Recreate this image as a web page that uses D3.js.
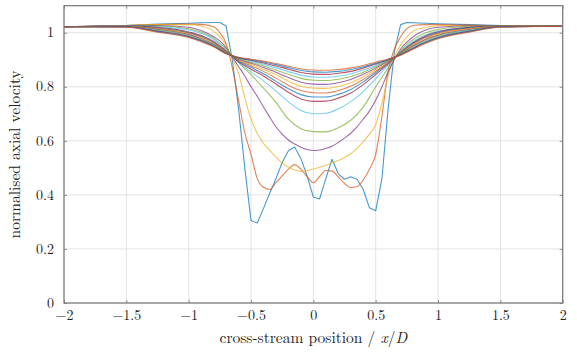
<!DOCTYPE html>
<html>
<head>
<meta charset="utf-8">
<script src="https://cdn.jsdelivr.net/npm/d3@7"></script>
<style>
html,body{margin:0;padding:0;background:#fff;}
svg{display:block;}
text{font-family:"Latin Modern Roman","Liberation Serif","DejaVu Serif",serif;fill:#222;}
</style>
</head>
<body>
<svg id="chart" width="577" height="358"></svg>
<script>
// ---- data ----
const xTicks = [-2, -1.5, -1, -0.5, 0, 0.5, 1, 1.5, 2];
const yTicks = [0, 0.2, 0.4, 0.6, 0.8, 1];
const xLabel = "cross-stream position / ";
const yLabel = "normalised axial velocity";

const xFine = [-2, -1.5, -1.25, -1, -0.9, -0.8, -0.75, -0.7, -0.65, -0.6, -0.55, -0.5, -0.45, -0.4, -0.35, -0.3, -0.25, -0.2, -0.15, -0.1, -0.05, 0, 0.05, 0.1, 0.15, 0.2, 0.25, 0.3, 0.35, 0.4, 0.45, 0.5, 0.55, 0.6, 0.65, 0.7, 0.75, 0.8, 0.9, 1, 1.25, 1.5, 2];
const xCoarse = [-2, -1.5, -1.25, -1, -0.9, -0.8, -0.7, -0.6, -0.5, -0.4, -0.3, -0.2, -0.1, 0, 0.1, 0.2, 0.3, 0.4, 0.5, 0.6, 0.7, 0.8, 0.9, 1, 1.25, 1.5, 2];

const s1 = [1.022, 1.027, 1.032, 1.035, 1.037, 1.038, 1.038, 1.025, 0.90, 0.72, 0.50, 0.305, 0.296, 0.35, 0.406, 0.46, 0.52, 0.563, 0.577, 0.535, 0.47, 0.392, 0.385, 0.46, 0.532, 0.478, 0.458, 0.467, 0.458, 0.42, 0.352, 0.341, 0.46, 0.72, 0.93, 1.03, 1.038, 1.037, 1.035, 1.033, 1.03, 1.027, 1.024];
const s2 = [1.022, 1.027, 1.03, 1.032, 1.031, 1.022, 1.0, 0.96, 0.87, 0.75, 0.63, 0.55, 0.46, 0.428, 0.42, 0.445, 0.47, 0.495, 0.512, 0.495, 0.468, 0.445, 0.468, 0.49, 0.488, 0.467, 0.442, 0.427, 0.43, 0.455, 0.495, 0.55, 0.69, 0.86, 0.94, 0.985, 1.015, 1.027, 1.03, 1.03, 1.028, 1.026, 1.024];
const s3 = [1.022, 1.027, 1.03, 1.03, 1.025, 1.005, 0.985, 0.955, 0.905, 0.85, 0.76, 0.68, 0.628, 0.59, 0.565, 0.54, 0.518, 0.503, 0.492, 0.487, 0.49, 0.496, 0.502, 0.51, 0.518, 0.527, 0.538, 0.552, 0.572, 0.597, 0.625, 0.66, 0.74, 0.84, 0.91, 0.955, 0.985, 1.005, 1.02, 1.026, 1.027, 1.026, 1.024];
const s4 = [1.022, 1.026, 1.027, 1.02, 1.008, 0.985, 0.97, 0.945, 0.91, 0.875, 0.84, 0.80, 0.765, 0.725, 0.688, 0.652, 0.625, 0.603, 0.588, 0.576, 0.568, 0.564, 0.566, 0.572, 0.58, 0.594, 0.61, 0.628, 0.652, 0.68, 0.71, 0.75, 0.80, 0.855, 0.90, 0.94, 0.965, 0.985, 1.01, 1.02, 1.026, 1.026, 1.024];

const s5  = [1.022, 1.026, 1.025, 1.015, 1.003, 0.98, 0.94, 0.89, 0.845, 0.795, 0.742, 0.68, 0.645, 0.634, 0.633, 0.648, 0.676, 0.725, 0.80, 0.87, 0.935, 0.975, 1.0, 1.012, 1.024, 1.026, 1.024];
const s6  = [1.022, 1.026, 1.022, 1.01, 0.998, 0.975, 0.935, 0.89, 0.855, 0.822, 0.785, 0.745, 0.712, 0.70, 0.702, 0.718, 0.745, 0.782, 0.83, 0.88, 0.93, 0.968, 0.992, 1.006, 1.02, 1.025, 1.024];
const s7  = [1.022, 1.025, 1.02, 1.003, 0.99, 0.968, 0.932, 0.892, 0.865, 0.84, 0.81, 0.78, 0.755, 0.746, 0.747, 0.758, 0.777, 0.808, 0.845, 0.885, 0.928, 0.963, 0.988, 1.003, 1.02, 1.025, 1.024];
const s8  = [1.022, 1.025, 1.018, 1.0, 0.987, 0.965, 0.93, 0.895, 0.872, 0.848, 0.82, 0.793, 0.771, 0.762, 0.762, 0.772, 0.79, 0.818, 0.852, 0.888, 0.926, 0.96, 0.985, 1.0, 1.018, 1.025, 1.024];
const s9  = [1.022, 1.024, 1.016, 0.998, 0.984, 0.962, 0.93, 0.898, 0.878, 0.857, 0.832, 0.806, 0.786, 0.778, 0.777, 0.786, 0.802, 0.827, 0.858, 0.89, 0.925, 0.957, 0.982, 0.997, 1.016, 1.024, 1.024];
const s10 = [1.022, 1.024, 1.014, 0.995, 0.981, 0.96, 0.928, 0.90, 0.883, 0.865, 0.845, 0.821, 0.802, 0.795, 0.794, 0.801, 0.815, 0.837, 0.864, 0.893, 0.924, 0.954, 0.978, 0.994, 1.014, 1.024, 1.024];
const s11 = [1.022, 1.023, 1.012, 0.993, 0.978, 0.957, 0.927, 0.902, 0.887, 0.871, 0.854, 0.834, 0.817, 0.81, 0.809, 0.815, 0.827, 0.846, 0.869, 0.895, 0.922, 0.951, 0.975, 0.991, 1.012, 1.023, 1.024];
const s12 = [1.022, 1.023, 1.01, 0.99, 0.975, 0.955, 0.926, 0.904, 0.891, 0.877, 0.862, 0.846, 0.831, 0.824, 0.823, 0.828, 0.838, 0.854, 0.874, 0.897, 0.921, 0.948, 0.971, 0.988, 1.01, 1.023, 1.024];
const s13 = [1.022, 1.022, 1.008, 0.988, 0.973, 0.953, 0.925, 0.906, 0.895, 0.883, 0.87, 0.856, 0.843, 0.836, 0.835, 0.839, 0.848, 0.862, 0.879, 0.899, 0.92, 0.945, 0.968, 0.985, 1.008, 1.022, 1.024];
const s14 = [1.022, 1.022, 1.006, 0.986, 0.971, 0.951, 0.924, 0.907, 0.898, 0.888, 0.877, 0.865, 0.853, 0.847, 0.846, 0.85, 0.857, 0.869, 0.884, 0.90, 0.919, 0.943, 0.965, 0.982, 1.006, 1.022, 1.024];
const s15 = [1.022, 1.021, 1.004, 0.984, 0.969, 0.95, 0.923, 0.908, 0.90, 0.892, 0.882, 0.871, 0.861, 0.855, 0.854, 0.857, 0.864, 0.874, 0.887, 0.901, 0.918, 0.941, 0.963, 0.98, 1.004, 1.021, 1.024];
const s16 = [1.022, 1.02, 1.002, 0.982, 0.967, 0.948, 0.922, 0.909, 0.902, 0.895, 0.886, 0.876, 0.867, 0.862, 0.861, 0.864, 0.87, 0.879, 0.891, 0.903, 0.917, 0.939, 0.961, 0.978, 1.002, 1.02, 1.024];

const palette = ["#0072BD", "#D95319", "#EDB120", "#7E2F8E", "#77AC30", "#4DBEEE", "#A2142F"];

const series = [
  {x: xFine, y: s1, curve: "linear"},
  {x: xFine, y: s2, curve: "smooth"},
  {x: xFine, y: s3, curve: "smooth"},
  {x: xFine, y: s4, curve: "smooth"},
  {x: xCoarse, y: s5, curve: "smooth"},
  {x: xCoarse, y: s6, curve: "smooth"},
  {x: xCoarse, y: s7, curve: "smooth"},
  {x: xCoarse, y: s8, curve: "smooth"},
  {x: xCoarse, y: s9, curve: "smooth"},
  {x: xCoarse, y: s10, curve: "smooth"},
  {x: xCoarse, y: s11, curve: "smooth"},
  {x: xCoarse, y: s12, curve: "smooth"},
  {x: xCoarse, y: s13, curve: "smooth"},
  {x: xCoarse, y: s14, curve: "smooth"},
  {x: xCoarse, y: s15, curve: "smooth"},
  {x: xCoarse, y: s16, curve: "smooth"}
];

// ---- layout ----
const svg = d3.select("#chart");
const L = 64, R = 562.7, T = 5.7, B = 303;
const x = d3.scaleLinear().domain([-2, 2]).range([L, R]);
const y = d3.scaleLinear().domain([0, 1.1]).range([B, T]);

// grid
const g = svg.append("g");
g.selectAll("line.gx").data(xTicks).join("line")
  .attr("x1", d => x(d)).attr("x2", d => x(d)).attr("y1", T).attr("y2", B)
  .attr("stroke", "#dcdcdc").attr("stroke-width", 0.8);
g.selectAll("line.gy").data(yTicks).join("line")
  .attr("y1", d => y(d)).attr("y2", d => y(d)).attr("x1", L).attr("x2", R)
  .attr("stroke", "#dcdcdc").attr("stroke-width", 0.8);

// curves
svg.append("clipPath").attr("id", "clip").append("rect")
  .attr("x", L).attr("y", T).attr("width", R - L).attr("height", B - T);
const lines = svg.append("g").attr("clip-path", "url(#clip)");
series.forEach((s, i) => {
  const pts = s.x.map((xv, j) => [xv, s.y[j]]);
  const gen = d3.line().x(d => x(d[0])).y(d => y(d[1]))
    .curve(s.curve === "linear" ? d3.curveLinear : d3.curveMonotoneX);
  lines.append("path").datum(pts)
    .attr("d", gen)
    .attr("fill", "none")
    .attr("stroke", palette[i % palette.length])
    .attr("stroke-opacity", 0.72)
    .attr("stroke-width", 1.1)
    .attr("stroke-linejoin", "round");
});

// axes
const xAxisB = d3.axisBottom(x).tickValues(xTicks).tickSizeInner(-3).tickSizeOuter(0)
  .tickFormat(d => d3.format("")(d).replace("-", "\u2212"));
const xAxisT = d3.axisTop(x).tickValues(xTicks).tickSizeInner(-3).tickSizeOuter(0).tickFormat("");
const yAxisL = d3.axisLeft(y).tickValues(yTicks).tickSizeInner(-3).tickSizeOuter(0)
  .tickFormat(d => d3.format("")(d));
const yAxisR = d3.axisRight(y).tickValues(yTicks).tickSizeInner(-3).tickSizeOuter(0).tickFormat("");

function styleAxis(sel) {
  sel.select(".domain").remove();
  sel.selectAll(".tick line").attr("stroke", "#777").attr("stroke-width", 0.8);
  sel.selectAll(".tick text").attr("font-size", 14).attr("fill", "#222")
    .style("font-family", '"Latin Modern Roman", "Liberation Serif", "DejaVu Serif", serif');
}
const gxB = svg.append("g").attr("transform", `translate(0,${B})`).call(xAxisB).call(styleAxis);
gxB.selectAll(".tick text").attr("dy", null).attr("y", 17);
svg.append("g").attr("transform", `translate(0,${T})`).call(xAxisT).call(styleAxis);
const gyL = svg.append("g").attr("transform", `translate(${L},0)`).call(yAxisL).call(styleAxis);
gyL.selectAll(".tick text").attr("x", -10).attr("dy", "0.3em");
svg.append("g").attr("transform", `translate(${R},0)`).call(yAxisR).call(styleAxis);

// frame
svg.append("rect").attr("x", L).attr("y", T).attr("width", R - L).attr("height", B - T)
  .attr("fill", "none").attr("stroke", "#777").attr("stroke-width", 1.2);

// axis titles
const xt = svg.append("text").attr("x", (L + R) / 2).attr("y", 343)
  .attr("text-anchor", "middle").attr("font-size", 15.5);
xt.append("tspan").text(xLabel);
xt.append("tspan").attr("font-style", "italic").text("x");
xt.append("tspan").text("/");
xt.append("tspan").attr("font-style", "italic").text("D");

svg.append("text")
  .attr("transform", `translate(20,${(T + B) / 2}) rotate(-90)`)
  .attr("text-anchor", "middle").attr("font-size", 15.5)
  .text(yLabel);
</script>
</body>
</html>
